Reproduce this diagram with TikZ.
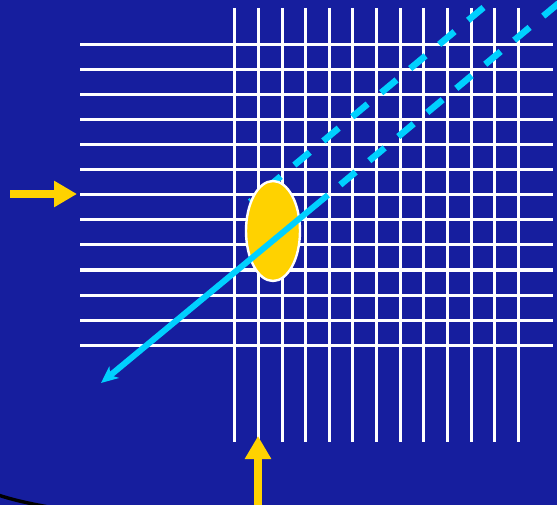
\documentclass[tikz,border=0pt]{standalone}
\usetikzlibrary{arrows.meta,shapes.geometric}
\definecolor{bgblue}{RGB}{22,30,158}
\definecolor{gold}{RGB}{255,210,0}
\definecolor{skycyan}{RGB}{0,208,255}
\tikzset{
  gridline/.style={white, line width=3pt},
  beam/.style={skycyan, line width=6pt},
  dashedbeam/.style={skycyan, line width=6.5pt, dash pattern=on 20pt off 17.7pt},
  feed/.style={gold, line width=8.5pt, -{Triangle[length=23pt,width=25pt]}},
  spot/.style={ellipse, fill=gold, draw=white, line width=2.4pt, minimum width=54pt, minimum height=100pt, inner sep=0pt}
}
\begin{document}
\begin{tikzpicture}[x=1pt,y=-1pt]
\useasboundingbox (0,0) rectangle (557,505);
\fill[bgblue] (0,0) rectangle (557,505);
% black rim at bottom left
\draw[black, line width=3.4pt] (-5,494) .. controls (10,499) and (25,503) .. (60,509);
% horizontal grid lines
\foreach \y in {45,70,95,120,145,170,195,220,245,270,295,320,345}
  \draw[gridline] (80,\y) -- (553,\y);
% vertical grid lines
\foreach \x in {234,258,282,305,329,352,376,400,423,447,471,494,518}
  \draw[gridline] (\x,8) -- (\x,442);
% upper dashed beam (runs behind the spot)
\coordinate (u1) at (483.5,7.5);
\coordinate (u0) at (250,202);
\draw[dashedbeam] (u1) -- (u0);
% ellipse
\node[spot] (s) at (273,231) {};
% beams
\coordinate (b0) at (101,383);
\coordinate (b1) at (328,195);
\coordinate (b2) at (565,-2);
\draw[dashedbeam, dash phase=21.7pt] (b1) -- (b2);
\draw[beam, {Stealth[length=17pt,width=15pt,inset=5pt]}-] (b0) -- (b1);
% yellow arrows
\coordinate (h0) at (10,194);
\coordinate (h1) at (77,194);
\coordinate (v0) at (258,510);
\coordinate (v1) at (258,436);
\draw[feed] (h0) -- (h1);
\draw[feed] (v0) -- (v1);
\end{tikzpicture}
\end{document}
